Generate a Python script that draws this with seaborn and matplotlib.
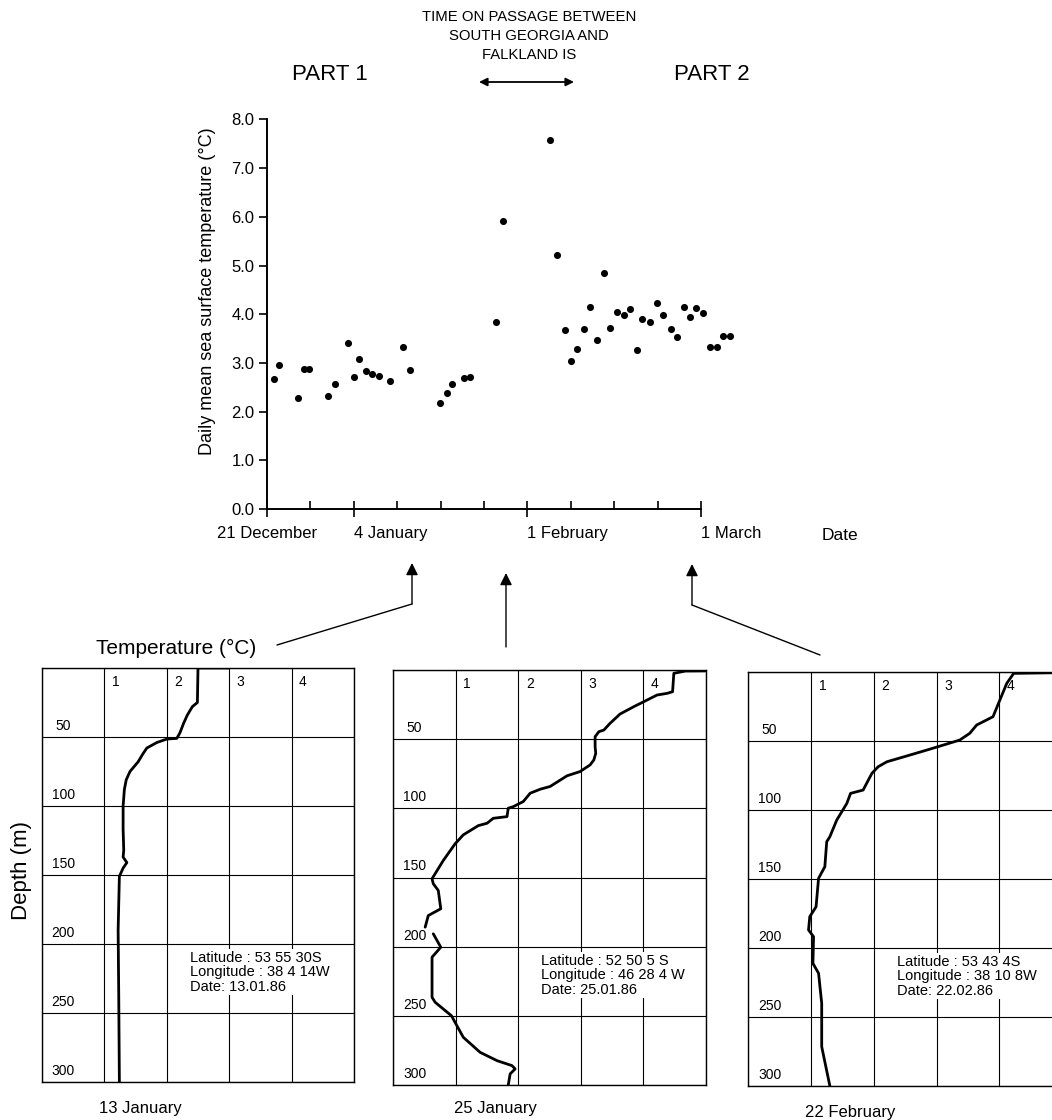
import numpy as np
import pandas as pd
import matplotlib
matplotlib.use("Agg")
import matplotlib.pyplot as plt
from matplotlib.ticker import FixedLocator
import seaborn as sns

# daily mean sea surface temperature (days after 21 December 1985)
days = [1.1, 2.0, 5.0, 5.9, 6.8, 9.9, 10.9, 13.0, 14.1, 14.9, 16.0, 16.9, 18.0, 19.8,
        21.9, 23.0, 27.9, 29.0, 29.8, 31.8, 32.8, 37.0, 38.0, 45.6, 46.7, 48.0, 49.0,
        50.0, 51.1, 52.1, 53.2, 54.3, 55.4, 56.5, 57.6, 58.5, 59.6, 60.5, 61.7, 62.9,
        63.9, 65.1, 66.2, 67.3, 68.3, 69.2, 70.4, 71.4, 72.5, 73.5, 74.7]
sst = [2.67, 2.95, 2.28, 2.87, 2.87, 2.33, 2.57, 3.41, 2.72, 3.07, 2.83, 2.78, 2.74, 2.63,
       3.33, 2.85, 2.18, 2.38, 2.57, 2.68, 2.71, 3.85, 5.91, 7.58, 5.22, 3.68, 3.04,
       3.29, 3.70, 4.15, 3.48, 4.85, 3.72, 4.05, 3.98, 4.10, 3.26, 3.90, 3.83, 4.22,
       3.99, 3.69, 3.53, 4.15, 3.94, 4.12, 4.03, 3.32, 3.32, 3.55, 3.55]
date_ticks = [0, 14, 42, 70]
date_labels = ["21 December", "4 January", "1 February", "1 March"]
sst_ticks = [0, 1, 2, 3, 4, 5, 6, 7, 8]

# temperature profiles (temp degC, depth m)
p1_temp = [3.0, 2.5, 2.49, 2.41, 2.33, 2.27, 2.21, 2.16, 2.0, 1.84, 1.68, 1.62, 1.54, 1.41,
           1.35, 1.32, 1.30, 1.30, 1.31, 1.30, 1.36, 1.30, 1.24, 1.22, 1.23, 1.24]
p1_depth = [0, 0, 25, 28, 34, 40, 47, 51, 51.5, 54, 58, 62, 68, 75,
            81, 88, 100, 117, 132, 137, 141, 145, 151, 190, 238, 300]

p2a_temp = [4.99, 4.67, 4.49, 4.47, 4.38, 4.22, 4.01, 3.85, 3.63, 3.47, 3.37, 3.29, 3.23, 3.23,
            3.24, 3.21, 3.15, 2.99, 2.78, 2.51, 2.35, 2.19, 2.08, 1.92, 1.84, 1.82, 1.60, 1.50,
            1.36, 1.12, 0.99, 0.80, 0.62, 0.64, 0.72, 0.76, 0.56, 0.51]
p2a_depth = [0.7, 0.8, 2.4, 15.7, 16.9, 18.1, 22.9, 26.5, 31.8, 38.5, 43.4, 44.6, 48.2, 55.4,
             60.2, 65, 68.6, 73.4, 76.5, 84.2, 86.2, 89.1, 95.1, 98.8, 99.9, 106, 107.2, 110.8,
             112.5, 119.2, 125.6, 137.7, 150.9, 154.5, 159.4, 172.6, 177.5, 185.9]
p2b_temp = [0.64, 0.76, 0.62, 0.62, 0.62, 0.67, 0.93, 1.12, 1.39, 1.66, 1.90, 1.95, 1.87, 1.84]
p2b_depth = [190.7, 200.4, 207.6, 226.9, 236.6, 240.2, 249.9, 265.5, 276.4, 282.4, 286, 288.4,
             292, 300]

p3_temp = [4.84, 4.23, 4.12, 4.01, 3.90, 3.64, 3.53, 3.37, 3.11, 2.90, 2.58, 2.21, 2.07, 1.97,
           1.83, 1.63, 1.57, 1.41, 1.30, 1.25, 1.22, 1.12, 1.08, 0.98, 0.96, 1.04, 1.03, 1.12,
           1.17, 1.17, 1.30]
p3_depth = [0.8, 1.2, 8.4, 20.5, 32.6, 38.6, 44.6, 49.5, 53.1, 56, 60.3, 65.2, 68.8, 73.6,
            85.7, 88.1, 95.4, 107.4, 119.5, 123.1, 141.2, 149.6, 170.2, 177.4, 187, 191.9,
            211.2, 218.4, 240.1, 271.5, 300]

stations = ["Latitude : 53 55 30S\nLongitude : 38 4 14W\nDate: 13.01.86",
            "Latitude : 52 50 5 S\nLongitude : 46 28 4 W\nDate: 25.01.86",
            "Latitude : 53 43 4S\nLongitude : 38 10 8W\nDate: 22.02.86"]
captions = ["13 January", "25 January", "22 February"]

sns.set_style("white")
plt.rcParams['font.family'] = ['Liberation Sans', 'DejaVu Sans']
plt.rcParams['text.color'] = 'black'
plt.rcParams['axes.labelcolor'] = 'black'
plt.rcParams['xtick.color'] = 'black'
plt.rcParams['ytick.color'] = 'black'

W, H = 1052, 1120
fig = plt.figure(figsize=(W / 100, H / 100), dpi=100)


def px_axes(left, top, width, height):
    return fig.add_axes([left / W, (H - top - height) / H, width / W, height / H])


# top scatter
ax = px_axes(267, 119.4, 76 * 6.2, 389.6)
sns.scatterplot(x=days, y=sst, color="black", s=26, linewidth=0, ax=ax)
ax.set_xlim(0, 76)
ax.set_ylim(0, 8)
for s in ["top", "right"]:
    ax.spines[s].set_visible(False)
ax.spines["bottom"].set_bounds(0, 70)
ax.spines["left"].set_bounds(0, 8)
for s in ["bottom", "left"]:
    ax.spines[s].set_color("black")
    ax.spines[s].set_linewidth(1.4)
ax.set_yticks(sst_ticks)
ax.set_yticklabels([f"{v:.1f}" for v in sst_ticks], fontsize=12)
ax.tick_params(axis="y", direction="out", length=6, width=1.2, colors="black", pad=3,
               left=True)
ax.set_xticks(date_ticks)
ax.set_xticklabels(date_labels, fontsize=12)
for lab, ha in zip(ax.get_xticklabels(), ["center", "left", "left", "left"]):
    lab.set_horizontalalignment(ha)
ax.xaxis.set_minor_locator(FixedLocator([7, 21, 28, 35, 49, 56, 63]))
ax.tick_params(axis="x", which="major", direction="inout", length=12, width=1.2,
               colors="black", pad=6, bottom=True)
ax.tick_params(axis="x", which="minor", direction="in", length=6, width=1.2,
               colors="black", bottom=True)
ax.set_ylabel("Daily mean sea surface temperature (°C)", fontsize=13)
ax.yaxis.set_label_coords(-0.108, 0.56)
ax.patch.set_alpha(0)

# temperature profiles
panels = [
    (42, 668, 312, 414, [(p1_temp, p1_depth)]),
    (393.3, 670, 312.4, 415, [(p2a_temp, p2a_depth), (p2b_temp, p2b_depth)]),
    (748.3, 671.7, 313.7, 414.3, [(p3_temp, p3_depth)]),
]
for i, (l, t, w, h, segs) in enumerate(panels):
    pax = px_axes(l, t, w, h)
    for tt, dd in segs:
        df = pd.DataFrame({"temp": tt, "depth": dd})
        sns.lineplot(data=df, x="temp", y="depth", sort=False, estimator=None,
                     color="black", lw=2.0, ax=pax)
    pax.set_xlim(0, 5)
    pax.set_ylim(300, 0)
    pax.set_xticks(range(6))
    pax.set_yticks(range(0, 301, 50))
    pax.grid(True, color="black", lw=0.8)
    pax.tick_params(length=0, labelbottom=False, labelleft=False)
    pax.set_xlabel("")
    pax.set_ylabel("")
    for s in pax.spines.values():
        s.set_color("black")
        s.set_linewidth(1.0)
    for c in range(1, 5):
        pax.text(c + 0.12, 10, str(c), fontsize=10, ha="left", va="center")
    for d in range(50, 301, 50):
        pax.text(0.34, d - 8, str(d), fontsize=10, ha="center", va="center")
    pax.text(2.37, 205, stations[i], fontsize=10.5, ha="left", va="top", linespacing=1.05,
             bbox=dict(facecolor="white", edgecolor="none", pad=1))

# overlay in pixel coordinates for labels and connectors
ov = fig.add_axes([0, 0, 1, 1])
ov.set_xlim(0, W)
ov.set_ylim(H, 0)
ov.axis("off")
ov.patch.set_alpha(0)

ov.text(529, 17, "TIME ON PASSAGE BETWEEN", fontsize=10.7, ha="center", va="center")
ov.text(529, 36, "SOUTH GEORGIA AND", fontsize=10.7, ha="center", va="center")
ov.text(529, 55, "FALKLAND IS", fontsize=10.7, ha="center", va="center")
ov.annotate("", xy=(479, 82), xytext=(574, 82),
            arrowprops=dict(arrowstyle="<|-|>", color="black", lw=1.3, mutation_scale=12,
                            shrinkA=0, shrinkB=0))
ov.text(330, 75, "PART 1", fontsize=16, ha="center", va="center")
ov.text(712, 75, "PART 2", fontsize=16, ha="center", va="center")
ov.text(840, 535, "Date", fontsize=12.5, ha="center", va="center")

ov.text(176, 648, "Temperature (°C)", fontsize=15, ha="center", va="center")
ov.text(22, 870, "Depth (m)", fontsize=16, ha="center", va="center", rotation=90)

arrow = dict(arrowstyle="-|>", color="black", lw=1.0, mutation_scale=18,
             shrinkA=0, shrinkB=0)
ov.plot([277, 412], [645, 604], color="black", lw=1.0)
ov.annotate("", xy=(412, 563), xytext=(412, 604), arrowprops=arrow)
ov.annotate("", xy=(506, 573), xytext=(506, 647), arrowprops=arrow)
ov.plot([820, 692], [655, 605], color="black", lw=1.0)
ov.annotate("", xy=(692, 564), xytext=(692, 605), arrowprops=arrow)

ov.text(140, 1108, captions[0], fontsize=12, ha="center", va="center")
ov.text(495, 1108, captions[1], fontsize=12, ha="center", va="center")
ov.text(850, 1112, captions[2], fontsize=12, ha="center", va="center")

fig.savefig("out.png", dpi=100, facecolor="white")
